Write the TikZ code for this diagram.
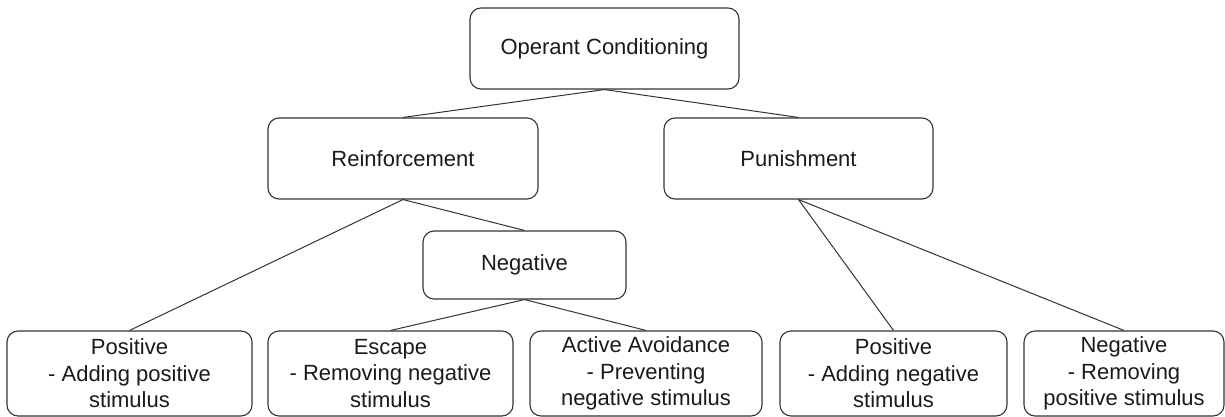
\documentclass[tikz,border=0pt]{standalone}
\usepackage{fontspec}
\setmainfont{Liberation Sans}
\definecolor{edgegray}{HTML}{333333}
\definecolor{txt}{HTML}{1A1A1A}
\begin{document}
\begin{tikzpicture}[x=1pt,y=-1pt,
  box/.style={draw=edgegray, line width=1.1pt, rounded corners=11pt, inner sep=0pt,
    align=center, text=txt, font=\fontsize{22}{26.5}\selectfont},
  conn/.style={draw=edgegray, line width=1pt}]
\useasboundingbox (0,0) rectangle (1225,417);
\node[box, minimum width=269pt, minimum height=81pt] (oc) at (604.5,48.5) {Operant Conditioning};
\node[box, minimum width=270pt, minimum height=81pt] (rein) at (403,158.5) {Reinforcement};
\node[box, minimum width=269pt, minimum height=81pt] (pun) at (798.5,158.5) {Punishment};
\node[box, minimum width=203pt, minimum height=68pt] (neg) at (524.5,265) {Negative};
\node[box, minimum width=245pt, minimum height=85pt] (pos1) at (129.5,373.5) {Positive\\- Adding positive\\stimulus};
\node[box, minimum width=245pt, minimum height=85pt] (esc) at (390.5,373.5) {Escape\\- Removing negative\\stimulus};
\node[box, minimum width=232pt, minimum height=85pt] (act) at (646,373.5) {Active Avoidance\\- Preventing\\negative stimulus};
\node[box, minimum width=227pt, minimum height=85pt] (ppos) at (893.5,373.5) {Positive\\- Adding negative\\stimulus};
\node[box, minimum width=200pt, minimum height=85pt] (pneg) at (1124,373.5) {Negative\\- Removing\\positive stimulus};
\draw[conn] (oc.south) -- (rein.north);
\draw[conn] (oc.south) -- (pun.north);
\draw[conn] (rein.south) -- (pos1.north);
\draw[conn] (rein.south) -- (neg.north);
\draw[conn] (neg.south) -- (esc.north);
\draw[conn] (neg.south) -- (act.north);
\draw[conn] (pun.south) -- (ppos.north);
\draw[conn] (pun.south) -- (pneg.north);
\end{tikzpicture}
\end{document}
